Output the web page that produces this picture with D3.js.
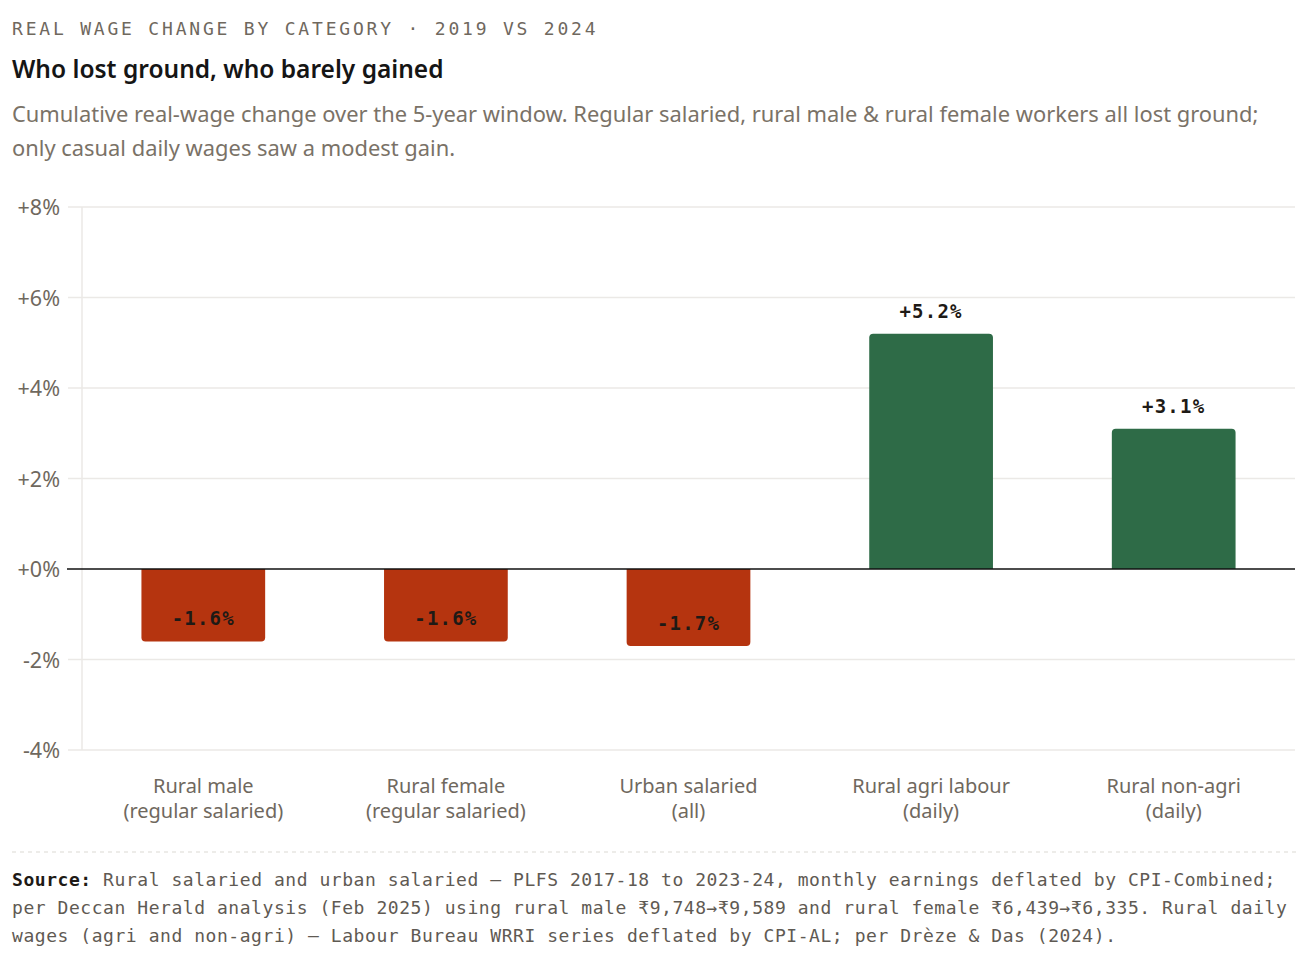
<!DOCTYPE html>
<html>
<head>
<meta charset="utf-8">
<script src="https://cdn.jsdelivr.net/npm/d3@7"></script>
<style>
  body { margin: 0; background: #fff; }
  svg { display: block; }
</style>
</head>
<body>
<script>
// data
const categories = [
    ['Rural male', '(regular salaried)'],
    ['Rural female', '(regular salaried)'],
    ['Urban salaried', '(all)'],
    ['Rural agri labour', '(daily)'],
    ['Rural non-agri', '(daily)']
];
const changes = [-1.6, -1.6, -1.7, 5.2, 3.1];
const yTicks = [-4, -2, 0, 2, 4, 6, 8];

const sourceLines = [
    'Rural salaried and urban salaried \u2014 PLFS 2017-18 to 2023-24, monthly earnings deflated by CPI-Combined;',
    'per Deccan Herald analysis (Feb 2025) using rural male \u20b99,748\u2192\u20b99,589 and rural female \u20b96,439\u2192\u20b96,335. Rural daily',
    'wages (agri and non-agri) \u2014 Labour Bureau WRRI series deflated by CPI-AL; per Dr\u00e8ze & Das (2024).'
];

let width = 1308,
    height = 968;

const SANS = '"Noto Sans", Roboto, sans-serif';
const MONO = '"DejaVu Sans Mono", "Liberation Mono", monospace';
const MUTED = '#6f685e';

let svg = d3.select('body')
    .append('svg')
    .attr('width', width)
    .attr('height', height);

// header
svg.append('text')
    .attr('x', 12).attr('y', 35)
    .attr('font-family', MONO)
    .attr('font-size', 18)
    .attr('letter-spacing', 2.8)
    .attr('fill', MUTED)
    .text('REAL WAGE CHANGE BY CATEGORY \u00b7 2019 VS 2024');

svg.append('text')
    .attr('x', 12).attr('y', 78)
    .attr('font-family', SANS)
    .attr('font-size', 24.5)
    .attr('font-weight', 600)
    .attr('fill', '#151515')
    .text('Who lost ground, who barely gained');

let sub = ['Cumulative real-wage change over the 5-year window. Regular salaried, rural male & rural female workers all lost ground;',
           'only casual daily wages saw a modest gain.'];
svg.append('g').selectAll('text')
    .data(sub)
    .join('text')
    .attr('x', 12)
    .attr('y', (d, i) => 122 + i * 34)
    .attr('font-family', SANS)
    .attr('font-size', 21.9)
    .attr('fill', '#7a7267')
    .text(d => d);

// scales
let x = d3.scaleBand()
    .domain(d3.range(categories.length))
    .range([82, 1295])
    .paddingInner(0.49)
    .paddingOuter(0.245);

let y = d3.scaleLinear()
    .domain([-4, 8])
    .range([750, 207]);

// grid
svg.append('g')
    .selectAll('line')
    .data(yTicks.filter(t => t !== 0))
    .join('line')
    .attr('x1', 68).attr('x2', 1295)
    .attr('y1', d => y(d)).attr('y2', d => y(d))
    .attr('stroke', '#ebe9e6')
    .attr('stroke-width', 1.5);

svg.append('line')
    .attr('x1', 82).attr('x2', 82)
    .attr('y1', y(8)).attr('y2', y(-4))
    .attr('stroke', '#ebe9e6')
    .attr('stroke-width', 1.5);

// y axis labels
let yAxis = d3.axisLeft(y)
    .tickValues(yTicks)
    .tickSize(0)
    .tickPadding(0)
    .tickFormat(d => (d >= 0 ? '+' : '') + d + '%');

let ga = svg.append('g')
    .attr('transform', 'translate(60,0)')
    .call(yAxis);
ga.select('.domain').remove();
ga.selectAll('text')
    .attr('font-family', SANS)
    .attr('font-size', 21.5)
    .attr('fill', MUTED)
    .attr('dy', '0.35em');

// bars, rounded at the outer end only
const r = 4;
function barPath(i, v) {
    let x0 = x(i), x1 = x(i) + x.bandwidth();
    let y0 = y(0), y1 = y(v);
    if (v >= 0) {
        return `M${x0},${y0}V${y1 + r}Q${x0},${y1} ${x0 + r},${y1}H${x1 - r}Q${x1},${y1} ${x1},${y1 + r}V${y0}Z`;
    }
    return `M${x0},${y0}V${y1 - r}Q${x0},${y1} ${x0 + r},${y1}H${x1 - r}Q${x1},${y1} ${x1},${y1 - r}V${y0}Z`;
}

svg.append('g')
    .selectAll('path')
    .data(changes)
    .join('path')
    .attr('d', (d, i) => barPath(i, d))
    .attr('fill', d => d >= 0 ? '#2e6b47' : '#b5340f');

// zero line
svg.append('line')
    .attr('x1', 67).attr('x2', 1295)
    .attr('y1', y(0)).attr('y2', y(0))
    .attr('stroke', '#111')
    .attr('stroke-width', 1.6);

// value labels
svg.append('g')
    .selectAll('text')
    .data(changes)
    .join('text')
    .attr('x', (d, i) => x(i) + x.bandwidth() / 2)
    .attr('y', d => y(d) - 16)
    .attr('text-anchor', 'middle')
    .attr('font-family', MONO)
    .attr('font-size', 19)
    .attr('font-weight', 700)
    .attr('letter-spacing', 1.2)
    .attr('fill', '#1e1a16')
    .text(d => (d >= 0 ? '+' : '') + d.toFixed(1) + '%');

// category labels
let gc = svg.append('g');
categories.forEach((c, i) => {
    gc.append('text')
        .attr('x', x(i) + x.bandwidth() / 2)
        .attr('text-anchor', 'middle')
        .attr('font-family', SANS)
        .attr('font-size', 20)
        .attr('fill', MUTED)
        .selectAll('tspan')
        .data(c)
        .join('tspan')
        .attr('x', x(i) + x.bandwidth() / 2)
        .attr('y', (d, j) => 793 + j * 25)
        .text(d => d);
});

// footer
svg.append('line')
    .attr('x1', 12).attr('x2', 1296)
    .attr('y1', 852).attr('y2', 852)
    .attr('stroke', '#dcd9d4')
    .attr('stroke-width', 1.2)
    .attr('stroke-dasharray', '4,4');

let src = svg.append('g')
    .attr('font-family', MONO)
    .attr('font-size', 18)
    .attr('letter-spacing', 0.55)
    .attr('fill', '#5f5a53');

sourceLines.forEach((line, i) => {
    let t = src.append('text')
        .attr('x', 12)
        .attr('y', 886 + i * 28);
    if (i === 0) {
        t.append('tspan')
            .attr('font-weight', 700)
            .attr('fill', '#1e1a16')
            .text('Source: ');
    }
    t.append('tspan').text(line);
});
</script>
</body>
</html>
